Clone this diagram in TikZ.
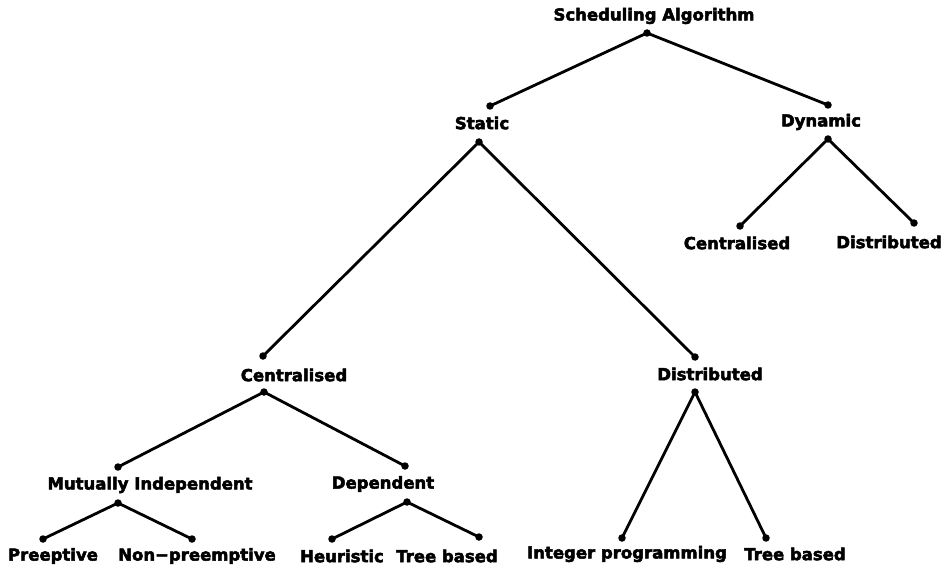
\documentclass[tikz,border=0pt]{standalone}
\usepackage{fontspec}
\setmainfont{DejaVu Sans}[BoldFeatures={FakeBold=3}]
\begin{document}
\begin{tikzpicture}[x=1pt,y=-1pt,
  tipdot/.style={circle, fill=black, inner sep=0pt, minimum size=7.5pt},
  lbl/.style={font=\fontsize{16.5}{17}\selectfont\bfseries, inner sep=0pt, anchor=center},
  branch/.style={line width=2.8pt, line cap=round}]
\useasboundingbox[fill=white] (0,0) rectangle (949,569);

% labels
\node[lbl] (root)  at (654,16)  {Scheduling Algorithm};
\node[lbl] (stat)  at (482,123) {Static};
\node[lbl] (dyn)   at (821,122) {Dynamic};
\node[lbl] (dcent) at (737,243) {Centralised};
\node[lbl] (ddist) at (889,242) {Distributed};
\node[lbl] (scent) at (294,375) {Centralised};
\node[lbl] (sdist) at (710,374) {Distributed};
\node[lbl] (mind)  at (150,485) {Mutually Independent};
\node[lbl] (dep)   at (383,484) {Dependent};
\node[lbl] (pre)   at (53,556)  {Preeptive};
\node[lbl] (npre)  at (197,556) {Non−preemptive};
\node[lbl] (heu)   at (342,556) {Heuristic};
\node[lbl] (tba)   at (447,556) {Tree based};
\node[lbl] (ipr)   at (627,554) {Integer programming};
\node[lbl] (tbb)   at (795,554) {Tree based};

% joints above and below the labels
\node[tipdot] (root-b)  at (647,33)  {};
\node[tipdot] (stat-t)  at (490,106) {};
\node[tipdot] (stat-b)  at (479,142) {};
\node[tipdot] (dyn-t)   at (828,105) {};
\node[tipdot] (dyn-b)   at (828,139) {};
\node[tipdot] (dcent-t) at (740,226) {};
\node[tipdot] (ddist-t) at (914,223) {};
\node[tipdot] (scent-t) at (263,356) {};
\node[tipdot] (scent-b) at (264,392) {};
\node[tipdot] (sdist-t) at (695,357) {};
\node[tipdot] (sdist-b) at (695,392) {};
\node[tipdot] (mind-t)  at (118,467) {};
\node[tipdot] (mind-b)  at (118,503) {};
\node[tipdot] (dep-t)   at (405,466) {};
\node[tipdot] (dep-b)   at (407,502) {};
\node[tipdot] (pre-t)   at (43,539)  {};
\node[tipdot] (npre-t)  at (192,539) {};
\node[tipdot] (heu-t)   at (332,539) {};
\node[tipdot] (tba-t)   at (479,537) {};
\node[tipdot] (ipr-t)   at (622,538) {};
\node[tipdot] (tbb-t)   at (766,538) {};

% branches
\draw[branch] (root-b.center) -- (stat-t.center);
\draw[branch] (root-b.center) -- (dyn-t.center);
\draw[branch] (stat-b.center) -- (scent-t.center);
\draw[branch] (stat-b.center) -- (sdist-t.center);
\draw[branch] (dyn-b.center) -- (dcent-t.center);
\draw[branch] (dyn-b.center) -- (ddist-t.center);
\draw[branch] (scent-b.center) -- (mind-t.center);
\draw[branch] (scent-b.center) -- (dep-t.center);
\draw[branch] (sdist-b.center) -- (ipr-t.center);
\draw[branch] (sdist-b.center) -- (tbb-t.center);
\draw[branch] (mind-b.center) -- (pre-t.center);
\draw[branch] (mind-b.center) -- (npre-t.center);
\draw[branch] (dep-b.center) -- (heu-t.center);
\draw[branch] (dep-b.center) -- (tba-t.center);
\end{tikzpicture}
\end{document}
